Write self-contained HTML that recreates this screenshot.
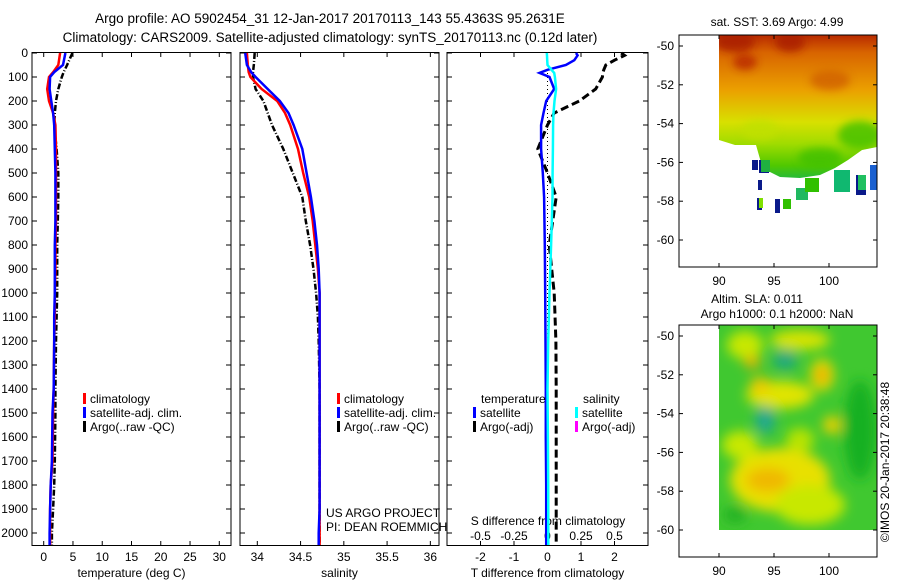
<!DOCTYPE html>
<html><head><meta charset="utf-8">
<style>
html,body{margin:0;padding:0;background:#fff;}
svg{display:block;font-family:"Liberation Sans",sans-serif;}
text{font-size:12px;fill:#000;}
</style></head>
<body>
<svg id="fig" width="900" height="580" viewBox="0 0 900 580" xmlns="http://www.w3.org/2000/svg">
<defs>
  <linearGradient id="sstGrad" x1="0" y1="0" x2="0" y2="1">
    <stop offset="0" stop-color="#b82a00"/>
    <stop offset="0.12" stop-color="#d86400"/>
    <stop offset="0.38" stop-color="#eba000"/>
    <stop offset="0.6" stop-color="#d8e000"/>
    <stop offset="0.75" stop-color="#a0dc00"/>
    <stop offset="0.9" stop-color="#50c800"/>
    <stop offset="1" stop-color="#20b840"/>
  </linearGradient>
  <clipPath id="sstClip">
    <polygon points="719,35 877,35 877,147 862,150 848,160 835,168 820,175 800,178 780,177 770,172 762,166 756,145 735,145 719,140"/>
  </clipPath>
  <filter id="blur6"><feGaussianBlur stdDeviation="6"/></filter>
  <filter id="blur4"><feGaussianBlur stdDeviation="4"/></filter>
  <clipPath id="slaClip"><rect x="719" y="325" width="158" height="205"/></clipPath>
</defs>

<!-- titles -->
<text x="330" y="23" text-anchor="middle" style="font-size:13.5px">Argo profile: AO 5902454_31 12-Jan-2017 20170113_143 55.4363S 95.2631E</text>
<text x="330" y="42" text-anchor="middle" style="font-size:13.5px">Climatology: CARS2009. Satellite-adjusted climatology: synTS_20170113.nc (0.12d later)</text>

<g id="p1"></g>
<g id="p2"></g>
<g id="p3"></g>

<!-- SST map -->
<g>
  <g clip-path="url(#sstClip)">
    <rect x="719" y="35" width="158" height="145" fill="url(#sstGrad)"/>
    <g filter="url(#blur4)" opacity="0.8">
      <ellipse cx="735" cy="42" rx="20" ry="10" fill="#a81c00"/>
      <ellipse cx="790" cy="42" rx="15" ry="10" fill="#a81c00"/>
      <ellipse cx="745" cy="62" rx="12" ry="8" fill="#b82800"/>
      <ellipse cx="830" cy="80" rx="20" ry="10" fill="#d06000"/>
      <ellipse cx="860" cy="135" rx="22" ry="14" fill="#40c000"/>
      <ellipse cx="820" cy="158" rx="22" ry="10" fill="#40c000"/>
      <ellipse cx="760" cy="130" rx="18" ry="10" fill="#c0e000"/>
    </g>
  </g>
  <g>
    <rect x="759" y="160" width="10" height="13" fill="#0a1a8a"/><rect x="761" y="160" width="9" height="12" fill="#20b040"/>
    <rect x="757" y="198" width="5" height="12" fill="#0a1a8a"/><rect x="759" y="198" width="4" height="10" fill="#80e000"/>
    <rect x="775" y="199" width="5" height="14" fill="#0a1a8a"/><rect x="783" y="199" width="8" height="10" fill="#30c000"/>
    <rect x="796" y="188" width="12" height="12" fill="#20b860"/><rect x="805" y="178" width="14" height="14" fill="#30c000"/>
    <rect x="834" y="170" width="16" height="22" fill="#10b870"/><rect x="856" y="175" width="10" height="20" fill="#0a1a8a"/>
    <rect x="858" y="175" width="8" height="15" fill="#20c060"/><rect x="870" y="165" width="7" height="25" fill="#1a60d0"/>
    <rect x="758" y="180" width="4" height="10" fill="#0a1a8a"/><rect x="752" y="160" width="6" height="10" fill="#0a1a8a"/>
  </g>
  <rect x="679" y="35" width="198" height="232" fill="none" stroke="#000" stroke-width="1"/>
  <text x="777" y="26" text-anchor="middle">sat. SST: 3.69 Argo: 4.99</text>
  <g id="m1ticks"></g>
</g>

<!-- SLA map -->
<g>
  <g clip-path="url(#slaClip)">
    <rect x="719" y="325" width="158" height="205" fill="#40c830"/>
    <g filter="url(#blur6)">
      <ellipse cx="745" cy="345" rx="18" ry="14" fill="#c8e800"/>
      <ellipse cx="752" cy="362" rx="8" ry="6" fill="#f0b000"/>
      <ellipse cx="800" cy="340" rx="30" ry="10" fill="#d8e400"/>
      <ellipse cx="780" cy="395" rx="34" ry="14" fill="#e0e400"/>
      <ellipse cx="760" cy="385" rx="10" ry="8" fill="#f0c800"/>
      <ellipse cx="822" cy="375" rx="12" ry="16" fill="#e8d800"/>
      <ellipse cx="822" cy="375" rx="5" ry="6" fill="#f09000"/>
      <ellipse cx="785" cy="360" rx="12" ry="10" fill="#20a880"/>
      <ellipse cx="765" cy="420" rx="10" ry="14" fill="#20a890"/>
      <ellipse cx="832" cy="425" rx="9" ry="9" fill="#f0d000"/>
      <ellipse cx="780" cy="480" rx="50" ry="32" fill="#e8e000"/>
      <ellipse cx="768" cy="480" rx="22" ry="12" fill="#f0b800"/>
      <ellipse cx="810" cy="505" rx="35" ry="20" fill="#c8e800"/>
      <ellipse cx="740" cy="445" rx="18" ry="14" fill="#c8e800"/>
      <ellipse cx="800" cy="440" rx="14" ry="12" fill="#b8e400"/>
      <ellipse cx="860" cy="430" rx="16" ry="50" fill="#18b020"/>
      <ellipse cx="735" cy="515" rx="12" ry="8" fill="#20b020"/>
    </g>
  </g>
  <rect x="679" y="325" width="198" height="232" fill="none" stroke="#000" stroke-width="1"/>
  <text x="757" y="303" text-anchor="middle">Altim. SLA: 0.011</text>
  <text x="777" y="318" text-anchor="middle">Argo h1000: 0.1 h2000: NaN</text>
  <g id="m2ticks"></g>
</g>
<text transform="translate(889,462) rotate(-90)" text-anchor="middle">©IMOS 20-Jan-2017 20:38:48</text>
</svg>
<script>
// ---- data ----
const depthTicks = [0,100,200,300,400,500,600,700,800,900,1000,1100,1200,1300,1400,1500,1600,1700,1800,1900,2000];
const tempTicks = [0,5,10,15,20,25,30];
const salTicks = [34,34.5,35,35.5,36];
const salTickLabels = ['34','34.5','35','35.5','36'];
const dTTicks = [-2,-1,0,1,2];
const dSTicks = [-0.5,-0.25,0,0.25,0.5];
const dSTickLabels = ['-0.5','-0.25','0','0.25','0.5'];

const profDepth = [0,50,80,100,150,200,250,300,400,500,600,700,800,900,1000,1100,1200,1400,1500,1700,1800,1900,2000,2050];
const tempClim  = [2.8,2.5,1.6,0.9,0.6,0.9,1.6,2.0,2.1,2.1,2.1,2.1,2.0,2.0,1.9,1.9,1.8,1.7,1.6,1.5,1.2,1.1,1.1,1.1];
const tempSat   = [3.7,3.3,1.8,1.1,1.0,1.3,1.6,1.8,1.9,2.0,2.0,2.0,1.9,1.9,1.9,1.8,1.8,1.7,1.5,1.4,1.2,1.1,1.0,1.0];
const tempArgo  = [4.9,4.0,3.4,3.1,2.5,2.1,1.9,1.8,2.2,2.5,2.5,2.4,2.3,2.3,2.3,2.2,2.1,2.0,2.0,1.9,1.8,1.6,1.4,1.4];
const salClim   = [33.88,33.89,33.9,33.92,34.05,34.23,34.32,34.38,34.47,34.53,34.60,34.64,34.67,34.70,34.72,34.72,34.72,34.72,34.72,34.72,34.72,34.72,34.72,34.72];
const salSat    = [33.86,33.88,33.93,33.98,34.12,34.26,34.36,34.42,34.52,34.57,34.62,34.66,34.69,34.71,34.72,34.72,34.72,34.72,34.72,34.72,34.72,34.72,34.71,34.71];
const salArgo   = [33.97,33.96,33.95,33.95,33.98,34.07,34.12,34.17,34.30,34.41,34.52,34.56,34.61,34.65,34.68,34.70,34.71,34.72,34.72,34.72,34.72,34.72,34.72,34.72];

const diffDepth = [0,10,30,50,70,83,100,150,200,250,300,400,500,600,800,1000,1200,1400,1600,1800,2000,2050];
const dTSat     = [0.85,0.9,0.8,0.55,0.0,-0.24,0.06,0.2,-0.04,-0.12,-0.19,-0.19,-0.14,-0.1,-0.08,-0.07,-0.06,-0.05,-0.05,-0.04,-0.04,-0.04];
const dSSat     = [-0.005,-0.004,-0.002,0.0,0.03,0.05,0.055,0.064,0.052,0.045,0.042,0.04,0.038,0.037,0.027,0.015,0.005,0.0,0.003,0.005,0.006,0.006];
const dTArgo    = [2.2,2.3,2.0,1.74,1.68,1.65,1.64,1.44,0.95,0.2,0.0,-0.29,0.0,0.26,0.05,0.2,0.25,0.26,0.26,0.26,0.26,0.26];

const mapLon = [90,95,100];
const mapLat = [-50,-52,-54,-56,-58,-60];

// ---- helpers ----
const NS='http://www.w3.org/2000/svg';
function mk(tag, attrs, parent){const e=document.createElementNS(NS,tag);for(const k in attrs)e.setAttribute(k,attrs[k]);parent.appendChild(e);return e;}
const yTop=53, yPer=0.24;
const yD = d => yTop + d*yPer;
const fig=document.getElementById('fig');

function panel(g, x0, x1, xmin, xmax, ticks, labels, xlabel, depthLabels){
  const sx = v => x0 + (v-xmin)/(xmax-xmin)*(x1-x0);
  const box=mk('rect',{x:x0,y:52.5,width:x1-x0,height:493,fill:'none',stroke:'#000','stroke-width':1},g);
  
  
  depthTicks.forEach(d=>{
    const y=yD(d);
    mk('line',{x1:x0,x2:x0+5,y1:y,y2:y,stroke:'#000'},g);
    mk('line',{x1:x1-5,x2:x1,y1:y,y2:y,stroke:'#000'},g);
    if(depthLabels){
      const t=mk('text',{x:x0-4,y:y+4,'text-anchor':'end'},g);t.textContent=d;
      
      
    }
  });
  ticks.forEach((v,i)=>{
    const x=sx(v);
    mk('line',{x1:x,x2:x,y1:52.5,y2:57,stroke:'#000'},g);
    mk('line',{x1:x,x2:x,y1:541,y2:545.5,stroke:'#000'},g);
    const t=mk('text',{x:x,y:561,'text-anchor':'middle'},g);t.textContent=labels[i];
    
    
  });
  const t=mk('text',{x:(x0+x1)/2,y:577,'text-anchor':'middle'},g);t.textContent=xlabel;
  
  
  return sx;
}
function line(g, sx, xs, ds, color, w, dash, name){
  const pts=xs.map((v,i)=>sx(v).toFixed(1)+','+yD(ds[i]).toFixed(1)).join(' ');
  const p=mk('polyline',{points:pts,fill:'none',stroke:color,'stroke-width':w},g);
  if(dash)p.setAttribute('stroke-dasharray',dash);
  
  
}
function legend(g,x,y,color,label){
  mk('rect',{x:x,y:y-10,width:3,height:11,fill:color},g);
  const t=mk('text',{x:x+7,y:y},g);t.textContent=label;
  
  
}

// Panel 1
const g1=document.getElementById('p1');
const sx1=panel(g1,32,231,-2,32,tempTicks,tempTicks.map(String),'temperature (deg C)',true);
line(g1,sx1,tempArgo,profDepth,'#000',2.5,'6,2,1,2','temp-argo-line');
line(g1,sx1,tempClim,profDepth,'#f00',2.5,null,'temp-climatology-line');
line(g1,sx1,tempSat,profDepth,'#00f',2.5,null,'temp-satellite-line');
legend(g1,83,403,'#f00','climatology');
legend(g1,83,417,'#00f','satellite-adj. clim.');
legend(g1,83,431,'#000','Argo(..raw -QC)');

// Panel 2
const g2=document.getElementById('p2');
const sx2=panel(g2,240,439,33.8,36.1,salTicks,salTickLabels,'salinity',false);
line(g2,sx2,salArgo,profDepth,'#000',2.5,'6,2,1,2','sal-argo-line');
line(g2,sx2,salClim,profDepth,'#f00',2.5,null,'sal-climatology-line');
line(g2,sx2,salSat,profDepth,'#00f',2.5,null,'sal-satellite-line');
legend(g2,337,403,'#f00','climatology');
legend(g2,337,417,'#00f','satellite-adj. clim.');
legend(g2,337,431,'#000','Argo(..raw -QC)');
[['US ARGO PROJECT',517],['PI: DEAN ROEMMICH',531]].forEach(([s,y])=>{const t=mk('text',{x:326,y:y},g2);t.textContent=s;
  
  });

// Panel 3
const g3=document.getElementById('p3');
const sx3=panel(g3,447,648,-3,3,dTTicks,dTTicks.map(String),'T difference from climatology',false);
const sxS = v => sx3(v*4);
mk('line',{x1:sx3(0),x2:sx3(0),y1:yD(0),y2:545,stroke:'#000','stroke-dasharray':'1,3'},g3);
dSTicks.forEach((v,i)=>{const t=mk('text',{x:sxS(v),y:540,'text-anchor':'middle'},g3);t.textContent=dSTickLabels[i];
  
  });
{const t=mk('text',{x:548,y:525,'text-anchor':'middle'},g3);t.textContent='S difference from climatology';
  
  }
line(g3,sx3,dTArgo,diffDepth,'#000',3,'8,4','tdiff-argo-line');
line(g3,sx3,dTSat,diffDepth,'#00f',2.5,null,'tdiff-satellite-line');
line(g3,sxS,dSSat,diffDepth,'#0ff',2.5,null,'sdiff-satellite-line');
{const t=mk('text',{x:481,y:403},g3);t.textContent='temperature';
  
  }
{const t=mk('text',{x:583,y:403},g3);t.textContent='salinity';
  
  }
legend(g3,473,417,'#00f','satellite');
legend(g3,473,431,'#000','Argo(-adj)');
legend(g3,575,417,'#0ff','satellite');
legend(g3,575,431,'#f0f','Argo(-adj)');

// Map ticks
function mapTicks(gid, yTopBox, yBot, latY){
  const g=document.getElementById(gid);
  const lx = lon => 719 + (lon-90)*11;
  mapLon.forEach(l=>{
    const x=lx(l);
    mk('line',{x1:x,x2:x,y1:yTopBox,y2:yTopBox+4,stroke:'#000'},g);
    mk('line',{x1:x,x2:x,y1:yBot-4,y2:yBot,stroke:'#000'},g);
    const t=mk('text',{x:x,y:yBot+18,'text-anchor':'middle'},g);t.textContent=l;
    
    
  });
  mapLat.forEach(l=>{
    const y=latY + (-50-l)*19.4;
    mk('line',{x1:679,x2:683,y1:y,y2:y,stroke:'#000'},g);
    mk('line',{x1:873,x2:877,y1:y,y2:y,stroke:'#000'},g);
    const t=mk('text',{x:674,y:y+4,'text-anchor':'end'},g);t.textContent=l;
    
    
  });
}
mapTicks('m1ticks',35,267,46);
mapTicks('m2ticks',325,557,336);
</script>
</body></html>
